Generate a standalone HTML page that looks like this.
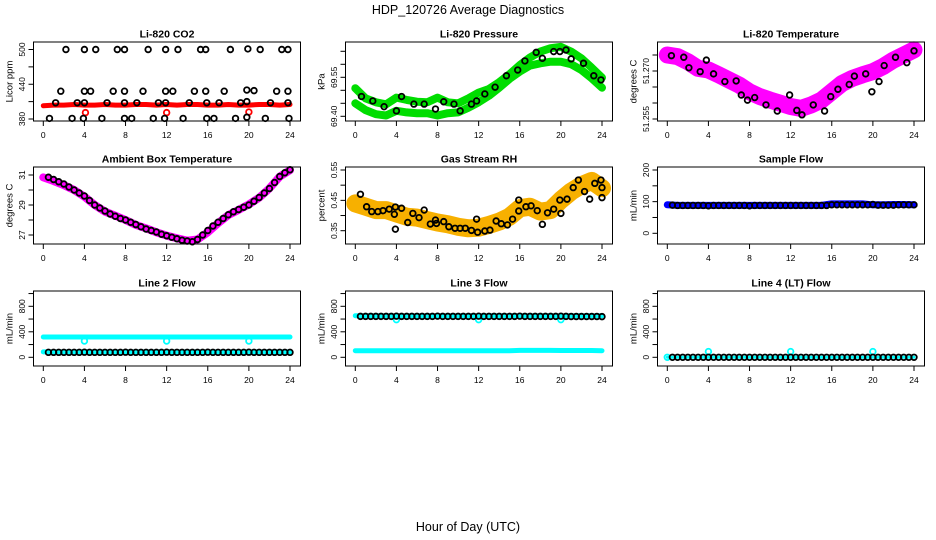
<!DOCTYPE html>
<html><head><meta charset="utf-8"><style>
html,body{margin:0;padding:0;background:#fff;}
svg{display:block;font-family:"Liberation Sans",sans-serif;}
</style></head><body>
<svg id="chart" width="936" height="540" viewBox="0 0 936 540">
<rect x="0" y="0" width="936" height="540" fill="#fff"/>
<text x="468" y="14" text-anchor="middle" font-size="12.5">HDP_120726  Average Diagnostics</text>
<text x="468" y="531" text-anchor="middle" font-size="12.5">Hour of Day (UTC)</text>
</svg>
<script>
const hourly=[0,1,2,3,4,5,6,7,8,9,10,11,12,13,14,15,16,17,18,19,20,21,22,23,24];
const halfHours=[0.5,1,1.5,2,2.5,3,3.5,4,4.5,5,5.5,6,6.5,7,7.5,8,8.5,9,9.5,10,10.5,11,11.5,12,12.5,13,13.5,14,14.5,15,15.5,16,16.5,17,17.5,18,18.5,19,19.5,20,20.5,21,21.5,22,22.5,23,23.5,24];
const xTicks=[0,4,8,12,16,20,24];

// CO2
const co2Band=[403,404,404,405,404,404,405,404,404,405,405,404,405,404,405,405,404,404,405,404,404,405,405,404,405];
const co2PtHours=[2.2,4.0,5.1,7.2,7.9,10.2,11.9,13.1,15.3,15.8,18.2,19.9,21.1,23.2,23.8, 1.7,4.0,4.6,6.8,7.9,9.7,11.9,12.6,14.7,15.8,17.6,19.8,20.5,22.7,23.8, 1.2,3.3,4.0,6.2,7.9,9.1,11.2,11.9,14.2,15.9,17.1,19.2,19.8,22.1,23.8, 0.6,2.8,3.9,5.7,7.9,8.6,10.7,11.8,13.6,15.9,16.6,18.7,19.8,21.6,23.9];
const co2PtValues=[500,500,500,500,500,500,500,500,500,500,500,501,500,500,500, 428,428,428,428,428,428,428,428,428,428,428,430,429,428,428, 408,408,408,408,408,408,408,408,408,408,408,408,410,408,408, 381,381,381,381,381,381,381,381,381,381,381,381,383,381,381];
const co2OutHours=[4.1,12.0,20.0];
const co2OutValues=[391,391,392];

// Pressure
const presUpper=[69.508,69.469,69.454,69.446,69.472,69.463,69.456,69.454,69.472,69.454,69.450,69.469,69.491,69.505,69.531,69.562,69.597,69.626,69.649,69.662,69.667,69.649,69.623,69.587,69.549];
const presLower=[69.450,69.424,69.408,69.403,69.421,69.415,69.412,69.412,69.403,69.412,69.415,69.433,69.454,69.479,69.510,69.544,69.572,69.595,69.604,69.610,69.610,69.600,69.578,69.546,69.510];
const presPtHours=[0.6,1.7,2.8,4.0,4.5,5.7,6.7,7.8,8.6,9.6,10.2,11.3,11.8,12.6,13.6,14.7,15.8,16.5,17.6,18.2,19.3,19.9,20.5,21.0,22.2,23.2,23.9];
const presPtValues=[69.476,69.459,69.437,69.421,69.476,69.447,69.447,69.428,69.456,69.447,69.421,69.447,69.459,69.486,69.512,69.556,69.578,69.613,69.646,69.623,69.649,69.649,69.655,69.621,69.604,69.556,69.540];

// Li-820 temperature
const tempBand=[51.2750,51.2745,51.2729,51.2708,51.2703,51.2688,51.2672,51.2656,51.2635,51.2620,51.2609,51.2599,51.2589,51.2583,51.2594,51.2609,51.2635,51.2661,51.2677,51.2688,51.2698,51.2714,51.2734,51.2750,51.2766];
const tempPtHours=[0.4,1.6,2.1,3.2,3.8,4.5,5.6,6.7,7.2,7.8,8.5,9.6,10.7,11.9,12.6,13.1,14.2,15.3,15.9,16.6,17.7,18.2,19.3,19.9,20.6,21.1,22.2,23.3,24.0];
const tempPtValues=[51.2748,51.2743,51.2710,51.2698,51.2734,51.2691,51.2667,51.2669,51.2625,51.2609,51.2617,51.2594,51.2575,51.2625,51.2577,51.2563,51.2594,51.2575,51.2620,51.2643,51.2658,51.2684,51.2691,51.2635,51.2667,51.2717,51.2743,51.2726,51.2763];

// Ambient box temperature
const ambLine=[30.84,30.6,30.33,30.0,29.56,29.0,28.56,28.29,28.0,27.67,27.44,27.18,26.96,26.78,26.62,26.7,27.18,27.78,28.33,28.67,29.04,29.49,30.11,30.89,31.33];
const ambPts=[30.85,30.7,30.55,30.4,30.2,30.0,29.8,29.6,29.3,29.0,28.8,28.6,28.4,28.25,28.1,28.0,27.85,27.7,27.55,27.4,27.3,27.2,27.05,26.95,26.85,26.75,26.65,26.6,26.55,26.7,27.0,27.3,27.6,27.85,28.1,28.35,28.55,28.7,28.85,29.0,29.25,29.5,29.8,30.1,30.5,30.9,31.15,31.35];

// Gas stream RH
const rhBand=[0.44,0.429,0.418,0.418,0.407,0.396,0.393,0.385,0.377,0.371,0.363,0.358,0.36,0.369,0.38,0.396,0.424,0.429,0.413,0.418,0.451,0.479,0.50,0.514,0.49];
const rhPtHours=[0.5,1.1,1.6,2.2,2.7,3.3,3.8,3.9,3.9,4.5,5.1,5.6,6.2,6.7,7.3,7.8,7.9,8.6,9.1,9.7,10.2,10.7,11.3,11.8,11.9,12.6,13.1,13.7,14.2,14.8,15.3,15.9,15.9,16.6,17.1,17.7,18.2,18.7,19.3,19.9,20.0,20.6,21.2,21.7,22.3,22.8,23.3,23.9,24.0,24.0];
const rhPtValues=[0.470,0.429,0.413,0.413,0.416,0.421,0.404,0.355,0.428,0.424,0.377,0.407,0.393,0.418,0.372,0.385,0.374,0.380,0.363,0.358,0.358,0.358,0.351,0.388,0.345,0.349,0.352,0.382,0.373,0.369,0.388,0.415,0.451,0.429,0.432,0.416,0.371,0.409,0.421,0.451,0.407,0.454,0.492,0.517,0.479,0.454,0.506,0.517,0.492,0.459];

// Sample flow
const sampleBand=[90,88,88,88,88,88,88,88,88,88,88,88,88,88,88,88,93,93,93,93,90,90,91,91,90];
const samplePts=[89,88,88,88,88,88,88,87,88,88,88,88,88,88,88,87,88,88,88,88,88,88,88,88,88,88,88,88,88,88,88,90,90,90,90,90,90,90,90,91,89,89,89,89,90,90,90,90];

// Line 2 flow
const l2Upper=[319,319,319,319,318,319,319,319,319,319,319,319,318,319,319,319,319,319,319,319,318,319,319,319,319];
const l2Lower=[84,84,84,84,84,84,84,84,84,84,84,84,84,84,84,84,84,84,84,84,84,84,84,84,84];
const l2Pts=[78,78,78,78,78,78,78,80,78,78,78,78,78,78,78,80,78,78,78,78,78,78,78,80,78,78,78,78,78,78,78,80,78,78,78,78,78,78,78,80,78,78,78,78,78,78,78,78];
const l2DipHours=[4,12,20];
const l2DipValues=[255,255,255];

// Line 3 flow
const l3Upper=[653,653,653,653,650,653,653,653,653,653,653,653,650,653,653,653,653,653,653,653,650,653,653,653,653];
const l3Lower=[104,104,104,104,104,104,104,104,104,104,104,104,104,104,104,104,108,108,108,108,106,106,106,106,104];
const l3Pts=[642,642,642,642,642,642,642,645,642,642,642,642,642,642,642,645,642,642,642,642,642,642,642,645,642,642,642,642,642,642,642,645,642,642,642,642,642,642,642,645,642,640,640,640,640,640,640,638];
const l3DipHours=[4,12,20];
const l3DipValues=[590,590,590];

// Line 4 flow
const l4Cyan=[0,0,0,0,0,0,0,0,0,0,0,0,0,0,0,0,0,0,0,0,0,0,0,0,0];
const l4Pts=[0,0,0,0,0,0,0,0,0,0,0,0,0,0,0,0,0,0,0,0,0,0,0,0,0,0,0,0,0,0,0,0,0,0,0,0,0,0,0,0,0,0,0,0,0,0,0,0];
const l4SpikeHours=[0,4,12,20];
const l4SpikeValues=[0,90,90,90];

const svg=document.getElementById('chart');
const NS='http://www.w3.org/2000/svg';
function mk(tag,attrs,parent){const e=document.createElementNS(NS,tag);for(const k in attrs)e.setAttribute(k,attrs[k]);(parent||svg).appendChild(e);return e;}

const rowBoxes=[[42,121],[167,244],[291,366]];
function makePanel(col,row,title,yTitle,tickVals,labelVals,dom,fmt){
  const g=mk('g',{});
  
  
  const bx0=312*col+33.5,bx1=312*col+300.5,by0=rowBoxes[row][0],by1=rowBoxes[row][1];
  const xs=h=>312*col+43.3+h*(246.7/24);
  const ys=v=>dom[1]+(v-dom[0])*(dom[3]-dom[1])/(dom[2]-dom[0]);
  const t=mk('text',{x:(bx0+bx1)/2,y:by0-4.5,'text-anchor':'middle','font-size':10.5,'font-weight':'bold'},g);
  t.textContent=title;
  
  
  const yt=mk('text',{transform:`translate(${312*col+12.5},${(by0+by1)/2}) rotate(-90)`,'text-anchor':'middle','font-size':9.5},g);
  yt.textContent=yTitle;
  
  
  const data=mk('g',{},g);
  
  
  const box=mk('rect',{x:bx0,y:by0,width:bx1-bx0,height:by1-by0,fill:'none',stroke:'#000','stroke-width':1},g);
  
  
  for(const h of xTicks){
    const tk=mk('line',{x1:xs(h),x2:xs(h),y1:by1,y2:by1+5,stroke:'#000','stroke-width':1},g);
    
    
    const lb=mk('text',{x:xs(h),y:by1+17,'text-anchor':'middle','font-size':8.5},g);
    lb.textContent=h;
    
    
  }
  for(const v of tickVals){
    const tk=mk('line',{x1:bx0-5,x2:bx0,y1:ys(v),y2:ys(v),stroke:'#000','stroke-width':1},g);
    
    
  }
  for(const v of labelVals){
    const lb=mk('text',{transform:`translate(${bx0-8.5},${ys(v)}) rotate(-90)`,'text-anchor':'middle','font-size':8.5},g);
    lb.textContent=fmt?fmt(v):v;
    
    
  }
  return {g:data,xs,ys};
}
function band(p,hs,vals,color,w,name){
  const pts=hs.map((h,i)=>p.xs(h).toFixed(1)+','+p.ys(vals[i]).toFixed(1)).join(' ');
  const pl=mk('polyline',{points:pts,fill:'none',stroke:color,'stroke-width':w,'stroke-linejoin':'round','stroke-linecap':'round'},p.g);
  
  
}
function pts(p,hs,vals,color,name,r,sw){
  hs.forEach((h,i)=>{
    const c=mk('circle',{cx:p.xs(h),cy:p.ys(vals[i]),r:r||2.8,fill:'none',stroke:color,'stroke-width':sw||1.8},p.g);
    
    
  });
}

let p=makePanel(0,0,'Li-820 CO2','Licor ppm',[380,410,440,470,500],[380,440,500],[380,119,500,49.5]);
band(p,hourly,co2Band,'#ff0000',5,'co2-band');
pts(p,co2OutHours,co2OutValues,'#ff0000','co2-outlier-point');
pts(p,co2PtHours,co2PtValues,'#000','co2-average-point');

p=makePanel(1,0,'Li-820 Pressure','kPa',[69.40,69.45,69.50,69.55,69.60,69.65],[69.40,69.55],[69.40,116.3,69.55,77.3],v=>v.toFixed(2));
band(p,hourly,presUpper,'#00dd00',8,'pressure-band-upper');
band(p,hourly,presLower,'#00dd00',8,'pressure-band-lower');
pts(p,presPtHours,presPtValues,'#000','pressure-average-point');

p=makePanel(2,0,'Li-820 Temperature','degrees C',[51.255,51.26,51.265,51.27,51.275],[51.255,51.270],[51.255,119,51.270,71],v=>v.toFixed(3));
band(p,hourly,tempBand,'#ff00ff',17,'temperature-band');
pts(p,tempPtHours,tempPtValues,'#000','temperature-average-point');

p=makePanel(0,1,'Ambient Box Temperature','degrees C',[27,28,29,30,31],[27,29,31],[27,235,31,175]);
band(p,hourly,ambLine,'#ff00ff',8,'ambient-band');
pts(p,halfHours,ambPts,'#000','ambient-average-point');

p=makePanel(1,1,'Gas Stream RH','percent',[0.35,0.40,0.45,0.50,0.55],[0.35,0.45,0.55],[0.35,230.7,0.55,170],v=>v.toFixed(2));
band(p,hourly,rhBand,'#f7b000',18,'rh-band');
pts(p,rhPtHours,rhPtValues,'#000','rh-average-point');

p=makePanel(2,1,'Sample Flow','mL/min',[0,50,100,150,200],[0,100,200],[0,233.3,200,170]);
band(p,hourly,sampleBand,'#0000ff',7,'sample-flow-band');
pts(p,halfHours,samplePts,'#000','sample-flow-average-point');

p=makePanel(0,2,'Line 2 Flow','mL/min',[0,200,400,600,800,1000],[0,400,800],[0,357.3,800,306.3]);
band(p,hourly,l2Upper,'#00ffff',5,'line2-flow-band-upper');
band(p,hourly,l2Lower,'#00ffff',5,'line2-flow-band-lower');
pts(p,l2DipHours,l2DipValues,'#00ffff','line2-dip-point');
pts(p,halfHours,l2Pts,'#000','line2-average-point');

p=makePanel(1,2,'Line 3 Flow','mL/min',[0,200,400,600,800,1000],[0,400,800],[0,357.3,800,306.3]);
band(p,hourly,l3Upper,'#00ffff',5,'line3-flow-band-upper');
band(p,hourly,l3Lower,'#00ffff',5,'line3-flow-band-lower');
pts(p,l3DipHours,l3DipValues,'#00ffff','line3-dip-point');
pts(p,halfHours,l3Pts,'#000','line3-average-point');

p=makePanel(2,2,'Line 4 (LT) Flow','mL/min',[0,200,400,600,800,1000],[0,400,800],[0,357.3,800,306.3]);
band(p,hourly,l4Cyan,'#00ffff',3,'line4-flow-band');
pts(p,l4SpikeHours,l4SpikeValues,'#00ffff','line4-spike-point');
pts(p,halfHours,l4Pts,'#000','line4-average-point');
</script>
</body></html>
